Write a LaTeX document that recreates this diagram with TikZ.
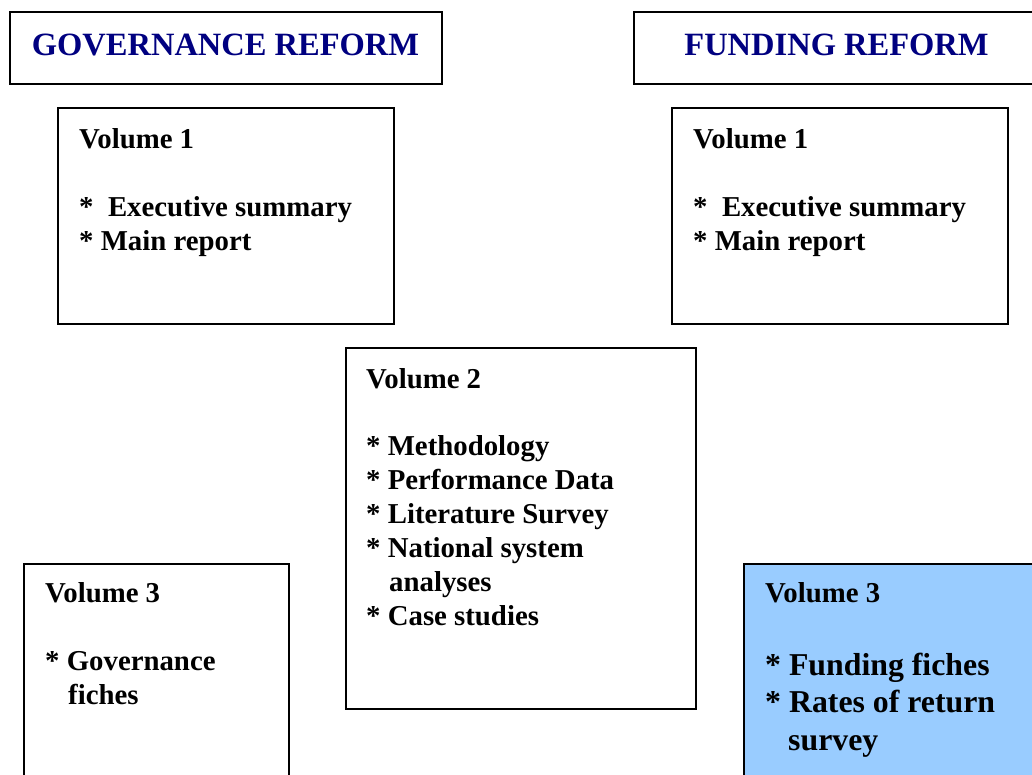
\documentclass[tikz,border=0pt]{standalone}
\usepackage{fontspec}
\setmainfont{Liberation Serif}
\definecolor{navy}{HTML}{000080}
\definecolor{lightblue}{HTML}{99CCFF}
\begin{document}
\begin{tikzpicture}[x=1pt,y=-1pt,
  box/.style={draw=black,line width=2pt,rectangle,inner sep=0pt,anchor=north west},
  ttl/.style={font=\fontsize{32.5}{40}\selectfont\bfseries,text=navy,anchor=base,inner sep=0pt},
  txt/.style={font=\fontsize{28.8}{34}\selectfont\bfseries,anchor=base west,inner sep=0pt},
  big/.style={font=\fontsize{31.8}{37}\selectfont\bfseries,anchor=base west,inner sep=0pt}]
\useasboundingbox (0,0) rectangle (1032,774);
\clip (0,0) rectangle (1032,774);
% title boxes
\node[box,minimum width=432pt,minimum height=72pt] (gov) at (9,11) {};
\node[ttl] (govt) at (225.5,55) {GOVERNANCE REFORM};
\node[box,minimum width=410pt,minimum height=72pt] (fun) at (633,11) {};
\node[ttl] (funt) at (836.5,55) {FUNDING REFORM};
% Volume 1 left
\node[box,minimum width=336pt,minimum height=216pt] (v1l) at (57,107) {};
\node[txt] (v1l-h) at (79,148) {Volume 1};
\node[txt] (v1l-a) at (79,216) {*\ \ Executive summary};
\node[txt] (v1l-b) at (79,250) {* Main report};
% Volume 1 right
\node[box,minimum width=336pt,minimum height=216pt] (v1r) at (671,107) {};
\node[txt] (v1r-h) at (693,148) {Volume 1};
\node[txt] (v1r-a) at (693,216) {*\ \ Executive summary};
\node[txt] (v1r-b) at (693,250) {* Main report};
% Volume 2
\node[box,minimum width=350pt,minimum height=361pt] (v2) at (345,347) {};
\node[txt] (v2-h) at (366,388) {Volume 2};
\node[txt] (v2-a) at (366,455) {* Methodology};
\node[txt] (v2-b) at (366,489) {* Performance Data};
\node[txt] (v2-c) at (366,523) {* Literature Survey};
\node[txt] (v2-d) at (366,557) {* National system};
\node[txt] (v2-e) at (389,591) {analyses};
\node[txt] (v2-f) at (366,625) {* Case studies};
% Volume 3 left
\node[box,minimum width=265pt,minimum height=260pt] (v3l) at (23,563) {};
\node[txt] (v3l-h) at (45,602) {Volume 3};
\node[txt] (v3l-a) at (45,670) {* Governance};
\node[txt] (v3l-b) at (68,704) {fiches};
% Volume 3 right
\node[box,fill=lightblue,minimum width=320pt,minimum height=260pt] (v3r) at (743,563) {};
\node[txt] (v3r-h) at (765,602) {Volume 3};
\node[big] (v3r-a) at (765,675) {* Funding fiches};
\node[big] (v3r-b) at (765,712) {* Rates of return};
\node[big] (v3r-c) at (788,750) {survey};
\end{tikzpicture}
\end{document}
